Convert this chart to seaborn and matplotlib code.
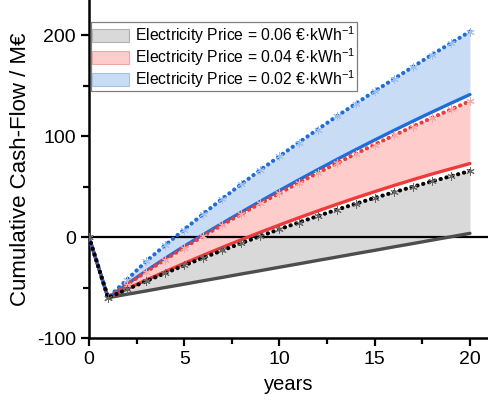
import matplotlib
matplotlib.use("Agg")
import matplotlib.pyplot as plt
from matplotlib.patches import Patch
import pandas as pd
import seaborn as sns

# ---- data -------------------------------------------------------------
years = list(range(0, 21))

# cumulative cash flow in M€ (solid = lower bound, dotted = upper bound)
grey_solid = [0, -60, -56.6, -53.3, -49.9, -46.6, -43.2, -39.9, -36.5, -33.2,
              -29.8, -26.5, -23.1, -19.8, -16.4, -13.1, -9.7, -6.4, -3.0, 0.3, 3.7]
black_dotted = [0, -60, -51.7, -43.6, -35.7, -28.0, -20.5, -13.2, -6.0, 1.0,
                7.8, 14.4, 20.8, 27.0, 33.0, 38.8, 44.4, 49.8, 55.1, 60.3, 65.4]
red_solid = [0, -60, -51.2, -42.6, -34.2, -26.0, -18.0, -10.2, -2.6, 4.8,
             12.0, 19.0, 25.8, 32.4, 38.8, 45.0, 51.0, 56.8, 62.4, 67.6, 72.8]
red_dotted = [0, -60, -47.0, -34.4, -22.2, -10.4, 1.0, 12.1, 22.9, 33.4,
              43.6, 53.6, 63.4, 73.0, 82.4, 91.6, 100.6, 109.4, 118.0, 126.4, 134.6]
blue_solid = [0, -60, -46.5, -33.5, -21.0, -9.0, 2.5, 13.7, 24.7, 35.5,
              46.1, 56.5, 66.7, 76.7, 86.5, 96.1, 105.5, 114.7, 123.7, 132.5, 141.1]
blue_dotted = [0, -60, -42.0, -24.0, -8.0, 7.5, 23.0, 38.0, 52.5, 66.5,
               80.0, 93.5, 106.5, 119.5, 132.0, 144.5, 156.5, 168.5, 180.5, 192.0, 203.5]

legend_labels = [
    r"Electricity Price = 0.06 €·kWh$^{-1}$",
    r"Electricity Price = 0.04 €·kWh$^{-1}$",
    r"Electricity Price = 0.02 €·kWh$^{-1}$",
]

# ---- style ------------------------------------------------------------
sns.set_theme(style="ticks")
plt.rcParams["font.family"] = ["Liberation Sans", "DejaVu Sans"]
plt.rcParams["mathtext.fontset"] = "custom"
plt.rcParams["mathtext.rm"] = "Liberation Sans"
plt.rcParams["mathtext.it"] = "Liberation Sans"
plt.rcParams["mathtext.default"] = "regular"
plt.rcParams["axes.unicode_minus"] = False
plt.rcParams["text.color"] = "black"

df = pd.DataFrame({
    "years": years,
    "grey_solid": grey_solid, "black_dotted": black_dotted,
    "red_solid": red_solid, "red_dotted": red_dotted,
    "blue_solid": blue_solid, "blue_dotted": blue_dotted,
})

fig = plt.figure(figsize=(4.89, 4.03), dpi=100)
ax = fig.add_axes([0.182, 0.161, 0.818, 0.839])

c_grey_fill, c_red_fill, c_blue_fill = "#d9d9d9", "#ffcccc", "#c8dcf6"
c_grey, c_red, c_blue = "#4d4d4d", "#f03a3a", "#1f6ddb"

# shaded bands between the bounds
ax.fill_between(df["years"], df["grey_solid"], df["black_dotted"],
                color=c_grey_fill, lw=0, zorder=1)
ax.fill_between(df["years"], df["red_solid"], df["red_dotted"],
                color=c_red_fill, lw=0, zorder=1)
ax.fill_between(df["years"], df["blue_solid"], df["blue_dotted"],
                color=c_blue_fill, lw=0, zorder=1)

ax.axhline(0, color="black", lw=1.6, zorder=2)

# solid lower-bound curves
for col, c in [("grey_solid", c_grey), ("red_solid", c_red), ("blue_solid", c_blue)]:
    sns.lineplot(data=df, x="years", y=col, color=c, lw=2.4, ax=ax,
                 zorder=3, solid_capstyle="round")

# dotted upper-bound curves with asterisk markers
for col, c, mc in [("blue_dotted", c_blue, "#9dbfee"),
                   ("red_dotted", c_red, "#f5a8a8"),
                   ("black_dotted", "black", "#666666")]:
    sns.lineplot(data=df, x="years", y=col, color=c, lw=2.9, ax=ax, zorder=4,
                 dashes=False, linestyle=(0, (0.1, 1.4)), dash_capstyle="round",
                 marker=(6, 2, 0), markersize=6, markeredgewidth=0.7,
                 markeredgecolor=mc, markerfacecolor=mc)

# ---- axes -------------------------------------------------------------
ax.set_xlim(0, 21)
ax.set_ylim(-100, 234.7)
ax.set_xticks([0, 5, 10, 15, 20])
ax.set_xticks([2.5, 7.5, 12.5, 17.5], minor=True)
ax.set_yticks([-100, 0, 100, 200])
ax.set_yticks([-50, 50, 150], minor=True)
ax.tick_params(axis="both", which="major", direction="out", length=6, width=1.6,
               labelsize=14, color="black", labelcolor="black")
ax.tick_params(axis="both", which="minor", direction="out", length=4, width=1.6,
               color="black")
for side in ["top", "right"]:
    ax.spines[side].set_visible(False)
for side in ["left", "bottom"]:
    ax.spines[side].set_linewidth(1.8)
    ax.spines[side].set_color("black")

ax.set_xlabel("years", fontsize=14.5, labelpad=5, color="black")
ax.set_ylabel("Cumulative Cash-Flow / M€", fontsize=16, labelpad=4, color="black")

handles = [Patch(facecolor=c_grey_fill, edgecolor="#b0b0b0", lw=0.8),
           Patch(facecolor=c_red_fill, edgecolor="#e8a8a8", lw=0.8),
           Patch(facecolor=c_blue_fill, edgecolor="#a8c0e0", lw=0.8)]
leg = ax.legend(handles, legend_labels, loc="upper left",
                bbox_to_anchor=(0.004, 0.935), borderaxespad=0.0, fontsize=11.3,
                frameon=True, fancybox=False, edgecolor="#808080",
                framealpha=1, borderpad=0.12, labelspacing=0.02,
                handlelength=2.3, handleheight=0.9, handletextpad=0.4)
leg.get_frame().set_linewidth(0.9)

fig.savefig("out.png", dpi=100)
